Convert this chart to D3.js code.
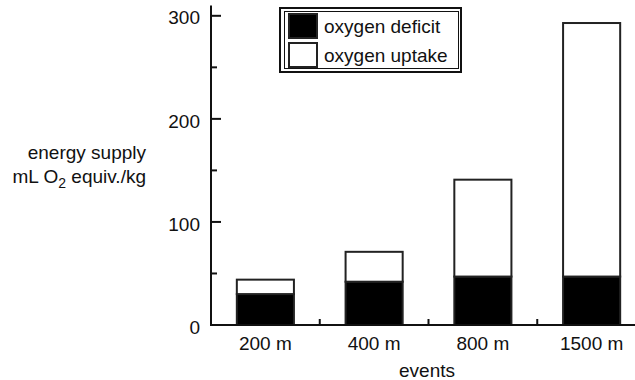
<!DOCTYPE html>
<html>
<head>
<meta charset="utf-8">
<script src="https://cdn.jsdelivr.net/npm/d3@7"></script>
<style>
  body { margin: 0; background: #fff; }
  svg { display: block; font-family: "Liberation Sans", Arial, sans-serif; }
  text { fill: #111; font-size: 19px; }
</style>
</head>
<body>
<svg id="chart" width="635" height="380"></svg>
<script>
// values
const events = ["200 m", "400 m", "800 m", "1500 m"];
const deficit = [30, 42, 47, 47];
const uptake = [14, 29, 94, 246];
const seriesNames = ["oxygen deficit", "oxygen uptake"];
const yTicks = [0, 100, 200, 300];
const yMinorTicks = [50, 150, 250];

const svg = d3.select("#chart");
const ink = "#111";

const x = d3.scaleBand().domain(events).range([211, 646]).padding(0);
const y = d3.scaleLinear().domain([0, 310]).range([325, 5.5]);
const barW = x.bandwidth() * 0.525;

const rows = events.map((e, i) => ({ event: e, deficit: deficit[i], uptake: uptake[i] }));
const stacked = d3.stack().keys(["deficit", "uptake"])(rows);
const fills = ["#000", "#fff"];

// bars
svg.append("g").selectAll("g")
  .data(stacked)
  .enter().append("g")
    .attr("fill", (d, i) => fills[i])
  .selectAll("rect")
  .data(d => d)
  .enter().append("rect")
    .attr("x", d => x(d.data.event) + (x.bandwidth() - barW) / 2)
    .attr("width", barW)
    .attr("y", d => y(d[1]))
    .attr("height", d => y(d[0]) - y(d[1]))
    .attr("stroke", "#222")
    .attr("stroke-width", 2);

// y axis
const yAxis = svg.append("g").attr("transform", "translate(211,0)");
yAxis.append("line")
  .attr("y1", y(310)).attr("y2", y(0))
  .attr("stroke", ink).attr("stroke-width", 2);
yAxis.selectAll(".major")
  .data(yTicks).enter().append("line")
    .attr("x1", 0).attr("x2", 10)
    .attr("y1", d => y(d)).attr("y2", d => y(d))
    .attr("stroke", ink).attr("stroke-width", 2);
yAxis.selectAll(".minor")
  .data(yMinorTicks).enter().append("line")
    .attr("x1", 0).attr("x2", 6)
    .attr("y1", d => y(d)).attr("y2", d => y(d))
    .attr("stroke", ink).attr("stroke-width", 2);
yAxis.selectAll("text")
  .data(yTicks).enter().append("text")
    .attr("x", -11)
    .attr("y", d => y(d) + 2)
    .attr("dy", "0.35em")
    .attr("text-anchor", "end")
    .text(d => d);

// x axis
const xAxis = svg.append("g");
xAxis.append("line")
  .attr("x1", 210).attr("x2", 635)
  .attr("y1", y(0)).attr("y2", y(0))
  .attr("stroke", ink).attr("stroke-width", 2);
xAxis.selectAll(".tick")
  .data(events.slice(1)).enter().append("line")
    .attr("x1", d => x(d)).attr("x2", d => x(d))
    .attr("y1", y(0)).attr("y2", y(0) - 6)
    .attr("stroke", ink).attr("stroke-width", 2);
xAxis.selectAll("text")
  .data(events).enter().append("text")
    .attr("x", d => x(d) + x.bandwidth() / 2)
    .attr("y", 350)
    .attr("text-anchor", "middle")
    .text(d => d);

svg.append("text")
  .attr("x", 427).attr("y", 377)
  .attr("text-anchor", "middle")
  .text("events");

// y title
svg.append("text")
  .attr("x", 146).attr("y", 159)
  .attr("text-anchor", "end")
  .text("energy supply");
const t2 = svg.append("text")
  .attr("x", 146).attr("y", 183)
  .attr("text-anchor", "end");
t2.append("tspan").text("mL O");
t2.append("tspan").attr("dy", 5).style("font-size", "14px").text("2");
t2.append("tspan").attr("dy", -5).text(" equiv./kg");

// legend
const lg = svg.append("g");
lg.append("rect")
  .attr("x", 280).attr("y", 8).attr("width", 181).attr("height", 64)
  .attr("fill", "#fff").attr("stroke", ink).attr("stroke-width", 2);
lg.append("rect")
  .attr("x", 284.5).attr("y", 11.5).attr("width", 174).attr("height", 57)
  .attr("fill", "none").attr("stroke", ink).attr("stroke-width", 1);
const items = lg.selectAll(".item")
  .data(seriesNames).enter().append("g")
    .attr("transform", (d, i) => `translate(0,${i * 29})`);
items.append("rect")
  .attr("x", 289).attr("y", 14).attr("width", 28).attr("height", 24)
  .attr("fill", (d, i) => fills[i])
  .attr("stroke", "#222").attr("stroke-width", 2);
items.append("text")
  .attr("x", 324).attr("y", 26)
  .attr("dy", "0.35em")
  .text(d => d);
</script>
</body>
</html>
